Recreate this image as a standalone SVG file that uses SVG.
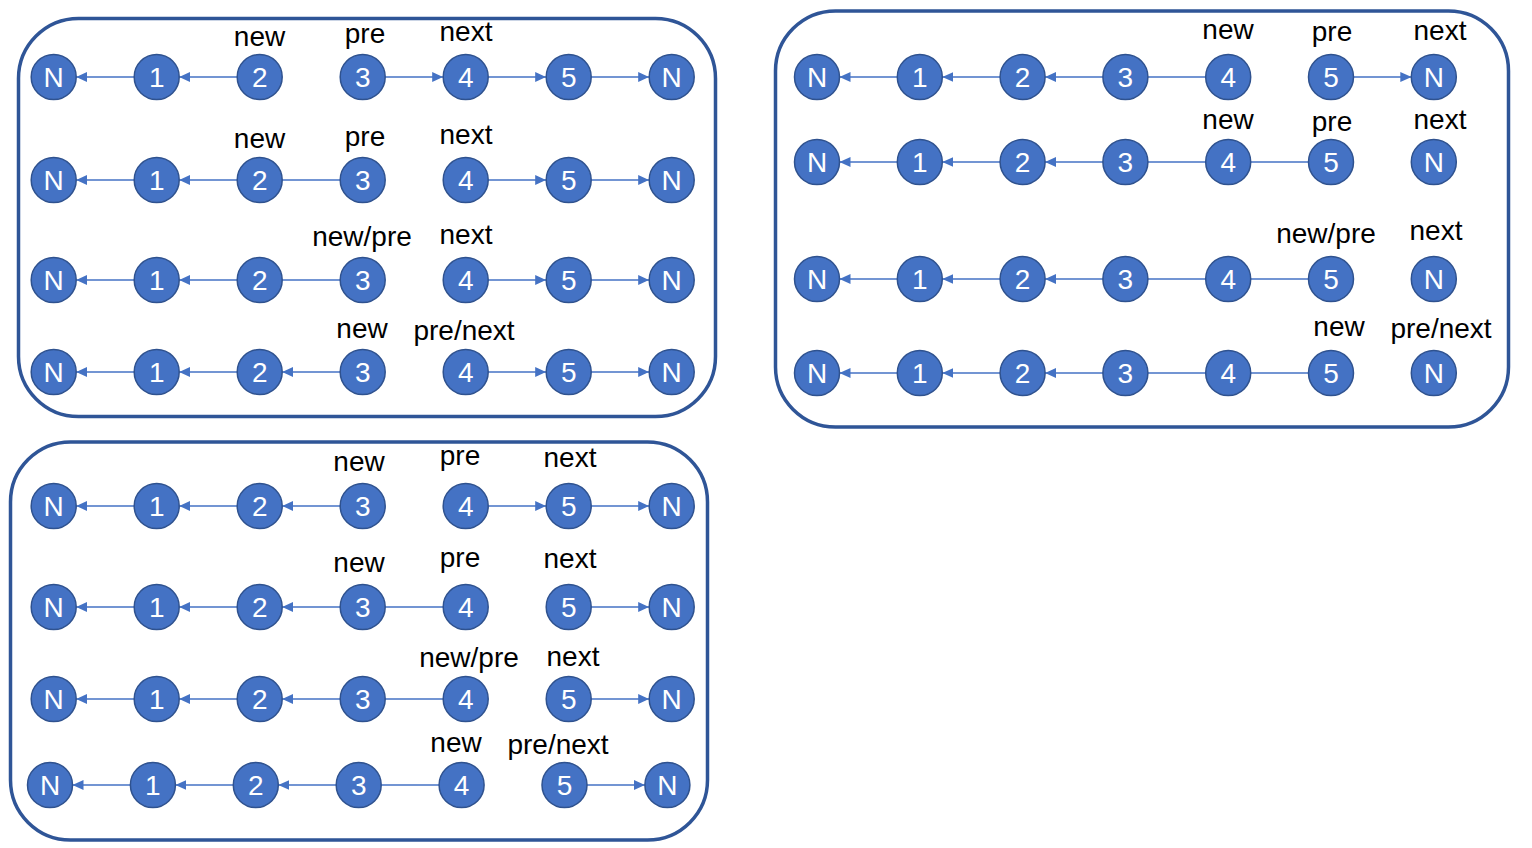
<svg xmlns="http://www.w3.org/2000/svg" width="1532" height="848" viewBox="0 0 1532 848">
<style>
.panel{fill:none;stroke:#2F5597;stroke-width:3.5}
.nd circle{fill:#4472C4;stroke:#2F528F;stroke-width:1.5}
.nd text{fill:#FFFFFF;font-family:"Liberation Sans",Arial,sans-serif;font-size:28px;text-anchor:middle}
.lbl{fill:#000000;font-family:"Liberation Sans",Arial,sans-serif;font-size:28px;text-anchor:middle}
.ln{stroke:#4472C4;stroke-width:1.3;fill:none}
.ar{marker-end:url(#ah)}
</style>
<defs>
<marker id="ah" markerUnits="userSpaceOnUse" markerWidth="11" markerHeight="10" refX="11" refY="5" orient="auto">
<path d="M0,0 L11,5 L0,10 z" fill="#4472C4"/>
</marker>
</defs>
<rect fill="#FFFFFF" x="0" y="0" width="1532" height="848"/>
<g id="panels">
<rect class="panel" x="18.5" y="18.5" width="697" height="398" rx="60"/>
<rect class="panel" x="775.5" y="11" width="733" height="416" rx="60"/>
<rect class="panel" x="10.5" y="442" width="697" height="398" rx="60"/>
</g>
<g id="connectors">
<line class="ln ar" x1="134.2" y1="77" x2="76.2" y2="77"/>
<line class="ln ar" x1="237.2" y1="77" x2="179.2" y2="77"/>
<line class="ln ar" x1="385.2" y1="77" x2="443.2" y2="77"/>
<line class="ln ar" x1="488.2" y1="77" x2="546.2" y2="77"/>
<line class="ln ar" x1="591.2" y1="77" x2="649.2" y2="77"/>
<line class="ln ar" x1="134.2" y1="180" x2="76.2" y2="180"/>
<line class="ln ar" x1="237.2" y1="180" x2="179.2" y2="180"/>
<line class="ln" x1="282.2" y1="180" x2="340.2" y2="180"/>
<line class="ln ar" x1="488.2" y1="180" x2="546.2" y2="180"/>
<line class="ln ar" x1="591.2" y1="180" x2="649.2" y2="180"/>
<line class="ln ar" x1="134.2" y1="280" x2="76.2" y2="280"/>
<line class="ln ar" x1="237.2" y1="280" x2="179.2" y2="280"/>
<line class="ln" x1="282.2" y1="280" x2="340.2" y2="280"/>
<line class="ln ar" x1="488.2" y1="280" x2="546.2" y2="280"/>
<line class="ln ar" x1="591.2" y1="280" x2="649.2" y2="280"/>
<line class="ln ar" x1="134.2" y1="372" x2="76.2" y2="372"/>
<line class="ln ar" x1="237.2" y1="372" x2="179.2" y2="372"/>
<line class="ln ar" x1="340.2" y1="372" x2="282.2" y2="372"/>
<line class="ln ar" x1="488.2" y1="372" x2="546.2" y2="372"/>
<line class="ln ar" x1="591.2" y1="372" x2="649.2" y2="372"/>
<line class="ln ar" x1="897.3" y1="77" x2="839.5" y2="77"/>
<line class="ln ar" x1="1000.1" y1="77" x2="942.3" y2="77"/>
<line class="ln ar" x1="1102.9" y1="77" x2="1045.1" y2="77"/>
<line class="ln" x1="1147.9" y1="77" x2="1205.7" y2="77"/>
<line class="ln ar" x1="1353.5" y1="77" x2="1411.3" y2="77"/>
<line class="ln ar" x1="897.3" y1="162" x2="839.5" y2="162"/>
<line class="ln ar" x1="1000.1" y1="162" x2="942.3" y2="162"/>
<line class="ln ar" x1="1102.9" y1="162" x2="1045.1" y2="162"/>
<line class="ln" x1="1147.9" y1="162" x2="1205.7" y2="162"/>
<line class="ln" x1="1250.7" y1="162" x2="1308.5" y2="162"/>
<line class="ln ar" x1="897.3" y1="279" x2="839.5" y2="279"/>
<line class="ln ar" x1="1000.1" y1="279" x2="942.3" y2="279"/>
<line class="ln ar" x1="1102.9" y1="279" x2="1045.1" y2="279"/>
<line class="ln" x1="1147.9" y1="279" x2="1205.7" y2="279"/>
<line class="ln" x1="1250.7" y1="279" x2="1308.5" y2="279"/>
<line class="ln ar" x1="897.3" y1="373" x2="839.5" y2="373"/>
<line class="ln ar" x1="1000.1" y1="373" x2="942.3" y2="373"/>
<line class="ln ar" x1="1102.9" y1="373" x2="1045.1" y2="373"/>
<line class="ln" x1="1147.9" y1="373" x2="1205.7" y2="373"/>
<line class="ln" x1="1250.7" y1="373" x2="1308.5" y2="373"/>
<line class="ln ar" x1="134.2" y1="506" x2="76.2" y2="506"/>
<line class="ln ar" x1="237.2" y1="506" x2="179.2" y2="506"/>
<line class="ln ar" x1="340.2" y1="506" x2="282.2" y2="506"/>
<line class="ln ar" x1="488.2" y1="506" x2="546.2" y2="506"/>
<line class="ln ar" x1="591.2" y1="506" x2="649.2" y2="506"/>
<line class="ln ar" x1="134.2" y1="607" x2="76.2" y2="607"/>
<line class="ln ar" x1="237.2" y1="607" x2="179.2" y2="607"/>
<line class="ln ar" x1="340.2" y1="607" x2="282.2" y2="607"/>
<line class="ln" x1="385.2" y1="607" x2="443.2" y2="607"/>
<line class="ln ar" x1="591.2" y1="607" x2="649.2" y2="607"/>
<line class="ln ar" x1="134.2" y1="699" x2="76.2" y2="699"/>
<line class="ln ar" x1="237.2" y1="699" x2="179.2" y2="699"/>
<line class="ln ar" x1="340.2" y1="699" x2="282.2" y2="699"/>
<line class="ln" x1="385.2" y1="699" x2="443.2" y2="699"/>
<line class="ln ar" x1="591.2" y1="699" x2="649.2" y2="699"/>
<line class="ln ar" x1="130.4" y1="785" x2="72.5" y2="785"/>
<line class="ln ar" x1="233.3" y1="785" x2="175.4" y2="785"/>
<line class="ln ar" x1="336.2" y1="785" x2="278.3" y2="785"/>
<line class="ln" x1="381.2" y1="785" x2="439.1" y2="785"/>
<line class="ln ar" x1="587" y1="785" x2="644.9" y2="785"/>
</g>
<g id="nodes">
<g id="tl1-n0" class="nd"><circle cx="53.7" cy="77" r="22.5"/><text x="53.7" y="87">N</text></g>
<g id="tl1-n1" class="nd"><circle cx="156.7" cy="77" r="22.5"/><text x="156.7" y="87">1</text></g>
<g id="tl1-n2" class="nd"><circle cx="259.7" cy="77" r="22.5"/><text x="259.7" y="87">2</text></g>
<g id="tl1-n3" class="nd"><circle cx="362.7" cy="77" r="22.5"/><text x="362.7" y="87">3</text></g>
<g id="tl1-n4" class="nd"><circle cx="465.7" cy="77" r="22.5"/><text x="465.7" y="87">4</text></g>
<g id="tl1-n5" class="nd"><circle cx="568.7" cy="77" r="22.5"/><text x="568.7" y="87">5</text></g>
<g id="tl1-n6" class="nd"><circle cx="671.7" cy="77" r="22.5"/><text x="671.7" y="87">N</text></g>
<g id="tl2-n0" class="nd"><circle cx="53.7" cy="180" r="22.5"/><text x="53.7" y="190">N</text></g>
<g id="tl2-n1" class="nd"><circle cx="156.7" cy="180" r="22.5"/><text x="156.7" y="190">1</text></g>
<g id="tl2-n2" class="nd"><circle cx="259.7" cy="180" r="22.5"/><text x="259.7" y="190">2</text></g>
<g id="tl2-n3" class="nd"><circle cx="362.7" cy="180" r="22.5"/><text x="362.7" y="190">3</text></g>
<g id="tl2-n4" class="nd"><circle cx="465.7" cy="180" r="22.5"/><text x="465.7" y="190">4</text></g>
<g id="tl2-n5" class="nd"><circle cx="568.7" cy="180" r="22.5"/><text x="568.7" y="190">5</text></g>
<g id="tl2-n6" class="nd"><circle cx="671.7" cy="180" r="22.5"/><text x="671.7" y="190">N</text></g>
<g id="tl3-n0" class="nd"><circle cx="53.7" cy="280" r="22.5"/><text x="53.7" y="290">N</text></g>
<g id="tl3-n1" class="nd"><circle cx="156.7" cy="280" r="22.5"/><text x="156.7" y="290">1</text></g>
<g id="tl3-n2" class="nd"><circle cx="259.7" cy="280" r="22.5"/><text x="259.7" y="290">2</text></g>
<g id="tl3-n3" class="nd"><circle cx="362.7" cy="280" r="22.5"/><text x="362.7" y="290">3</text></g>
<g id="tl3-n4" class="nd"><circle cx="465.7" cy="280" r="22.5"/><text x="465.7" y="290">4</text></g>
<g id="tl3-n5" class="nd"><circle cx="568.7" cy="280" r="22.5"/><text x="568.7" y="290">5</text></g>
<g id="tl3-n6" class="nd"><circle cx="671.7" cy="280" r="22.5"/><text x="671.7" y="290">N</text></g>
<g id="tl4-n0" class="nd"><circle cx="53.7" cy="372" r="22.5"/><text x="53.7" y="382">N</text></g>
<g id="tl4-n1" class="nd"><circle cx="156.7" cy="372" r="22.5"/><text x="156.7" y="382">1</text></g>
<g id="tl4-n2" class="nd"><circle cx="259.7" cy="372" r="22.5"/><text x="259.7" y="382">2</text></g>
<g id="tl4-n3" class="nd"><circle cx="362.7" cy="372" r="22.5"/><text x="362.7" y="382">3</text></g>
<g id="tl4-n4" class="nd"><circle cx="465.7" cy="372" r="22.5"/><text x="465.7" y="382">4</text></g>
<g id="tl4-n5" class="nd"><circle cx="568.7" cy="372" r="22.5"/><text x="568.7" y="382">5</text></g>
<g id="tl4-n6" class="nd"><circle cx="671.7" cy="372" r="22.5"/><text x="671.7" y="382">N</text></g>
<g id="tr1-n0" class="nd"><circle cx="817" cy="77" r="22.5"/><text x="817" y="87">N</text></g>
<g id="tr1-n1" class="nd"><circle cx="919.8" cy="77" r="22.5"/><text x="919.8" y="87">1</text></g>
<g id="tr1-n2" class="nd"><circle cx="1022.6" cy="77" r="22.5"/><text x="1022.6" y="87">2</text></g>
<g id="tr1-n3" class="nd"><circle cx="1125.4" cy="77" r="22.5"/><text x="1125.4" y="87">3</text></g>
<g id="tr1-n4" class="nd"><circle cx="1228.2" cy="77" r="22.5"/><text x="1228.2" y="87">4</text></g>
<g id="tr1-n5" class="nd"><circle cx="1331" cy="77" r="22.5"/><text x="1331" y="87">5</text></g>
<g id="tr1-n6" class="nd"><circle cx="1433.8" cy="77" r="22.5"/><text x="1433.8" y="87">N</text></g>
<g id="tr2-n0" class="nd"><circle cx="817" cy="162" r="22.5"/><text x="817" y="172">N</text></g>
<g id="tr2-n1" class="nd"><circle cx="919.8" cy="162" r="22.5"/><text x="919.8" y="172">1</text></g>
<g id="tr2-n2" class="nd"><circle cx="1022.6" cy="162" r="22.5"/><text x="1022.6" y="172">2</text></g>
<g id="tr2-n3" class="nd"><circle cx="1125.4" cy="162" r="22.5"/><text x="1125.4" y="172">3</text></g>
<g id="tr2-n4" class="nd"><circle cx="1228.2" cy="162" r="22.5"/><text x="1228.2" y="172">4</text></g>
<g id="tr2-n5" class="nd"><circle cx="1331" cy="162" r="22.5"/><text x="1331" y="172">5</text></g>
<g id="tr2-n6" class="nd"><circle cx="1433.8" cy="162" r="22.5"/><text x="1433.8" y="172">N</text></g>
<g id="tr3-n0" class="nd"><circle cx="817" cy="279" r="22.5"/><text x="817" y="289">N</text></g>
<g id="tr3-n1" class="nd"><circle cx="919.8" cy="279" r="22.5"/><text x="919.8" y="289">1</text></g>
<g id="tr3-n2" class="nd"><circle cx="1022.6" cy="279" r="22.5"/><text x="1022.6" y="289">2</text></g>
<g id="tr3-n3" class="nd"><circle cx="1125.4" cy="279" r="22.5"/><text x="1125.4" y="289">3</text></g>
<g id="tr3-n4" class="nd"><circle cx="1228.2" cy="279" r="22.5"/><text x="1228.2" y="289">4</text></g>
<g id="tr3-n5" class="nd"><circle cx="1331" cy="279" r="22.5"/><text x="1331" y="289">5</text></g>
<g id="tr3-n6" class="nd"><circle cx="1433.8" cy="279" r="22.5"/><text x="1433.8" y="289">N</text></g>
<g id="tr4-n0" class="nd"><circle cx="817" cy="373" r="22.5"/><text x="817" y="383">N</text></g>
<g id="tr4-n1" class="nd"><circle cx="919.8" cy="373" r="22.5"/><text x="919.8" y="383">1</text></g>
<g id="tr4-n2" class="nd"><circle cx="1022.6" cy="373" r="22.5"/><text x="1022.6" y="383">2</text></g>
<g id="tr4-n3" class="nd"><circle cx="1125.4" cy="373" r="22.5"/><text x="1125.4" y="383">3</text></g>
<g id="tr4-n4" class="nd"><circle cx="1228.2" cy="373" r="22.5"/><text x="1228.2" y="383">4</text></g>
<g id="tr4-n5" class="nd"><circle cx="1331" cy="373" r="22.5"/><text x="1331" y="383">5</text></g>
<g id="tr4-n6" class="nd"><circle cx="1433.8" cy="373" r="22.5"/><text x="1433.8" y="383">N</text></g>
<g id="bl1-n0" class="nd"><circle cx="53.7" cy="506" r="22.5"/><text x="53.7" y="516">N</text></g>
<g id="bl1-n1" class="nd"><circle cx="156.7" cy="506" r="22.5"/><text x="156.7" y="516">1</text></g>
<g id="bl1-n2" class="nd"><circle cx="259.7" cy="506" r="22.5"/><text x="259.7" y="516">2</text></g>
<g id="bl1-n3" class="nd"><circle cx="362.7" cy="506" r="22.5"/><text x="362.7" y="516">3</text></g>
<g id="bl1-n4" class="nd"><circle cx="465.7" cy="506" r="22.5"/><text x="465.7" y="516">4</text></g>
<g id="bl1-n5" class="nd"><circle cx="568.7" cy="506" r="22.5"/><text x="568.7" y="516">5</text></g>
<g id="bl1-n6" class="nd"><circle cx="671.7" cy="506" r="22.5"/><text x="671.7" y="516">N</text></g>
<g id="bl2-n0" class="nd"><circle cx="53.7" cy="607" r="22.5"/><text x="53.7" y="617">N</text></g>
<g id="bl2-n1" class="nd"><circle cx="156.7" cy="607" r="22.5"/><text x="156.7" y="617">1</text></g>
<g id="bl2-n2" class="nd"><circle cx="259.7" cy="607" r="22.5"/><text x="259.7" y="617">2</text></g>
<g id="bl2-n3" class="nd"><circle cx="362.7" cy="607" r="22.5"/><text x="362.7" y="617">3</text></g>
<g id="bl2-n4" class="nd"><circle cx="465.7" cy="607" r="22.5"/><text x="465.7" y="617">4</text></g>
<g id="bl2-n5" class="nd"><circle cx="568.7" cy="607" r="22.5"/><text x="568.7" y="617">5</text></g>
<g id="bl2-n6" class="nd"><circle cx="671.7" cy="607" r="22.5"/><text x="671.7" y="617">N</text></g>
<g id="bl3-n0" class="nd"><circle cx="53.7" cy="699" r="22.5"/><text x="53.7" y="709">N</text></g>
<g id="bl3-n1" class="nd"><circle cx="156.7" cy="699" r="22.5"/><text x="156.7" y="709">1</text></g>
<g id="bl3-n2" class="nd"><circle cx="259.7" cy="699" r="22.5"/><text x="259.7" y="709">2</text></g>
<g id="bl3-n3" class="nd"><circle cx="362.7" cy="699" r="22.5"/><text x="362.7" y="709">3</text></g>
<g id="bl3-n4" class="nd"><circle cx="465.7" cy="699" r="22.5"/><text x="465.7" y="709">4</text></g>
<g id="bl3-n5" class="nd"><circle cx="568.7" cy="699" r="22.5"/><text x="568.7" y="709">5</text></g>
<g id="bl3-n6" class="nd"><circle cx="671.7" cy="699" r="22.5"/><text x="671.7" y="709">N</text></g>
<g id="bl4-n0" class="nd"><circle cx="50" cy="785" r="22.5"/><text x="50" y="795">N</text></g>
<g id="bl4-n1" class="nd"><circle cx="152.9" cy="785" r="22.5"/><text x="152.9" y="795">1</text></g>
<g id="bl4-n2" class="nd"><circle cx="255.8" cy="785" r="22.5"/><text x="255.8" y="795">2</text></g>
<g id="bl4-n3" class="nd"><circle cx="358.7" cy="785" r="22.5"/><text x="358.7" y="795">3</text></g>
<g id="bl4-n4" class="nd"><circle cx="461.6" cy="785" r="22.5"/><text x="461.6" y="795">4</text></g>
<g id="bl4-n5" class="nd"><circle cx="564.5" cy="785" r="22.5"/><text x="564.5" y="795">5</text></g>
<g id="bl4-n6" class="nd"><circle cx="667.4" cy="785" r="22.5"/><text x="667.4" y="795">N</text></g>
</g>
<g id="labels">
<text class="lbl" x="259.5" y="46">new</text>
<text class="lbl" x="365" y="43">pre</text>
<text class="lbl" x="466" y="41">next</text>
<text class="lbl" x="259.5" y="148">new</text>
<text class="lbl" x="365" y="146">pre</text>
<text class="lbl" x="466" y="144">next</text>
<text class="lbl" x="362" y="246">new/pre</text>
<text class="lbl" x="466" y="244">next</text>
<text class="lbl" x="362" y="338">new</text>
<text class="lbl" x="464" y="340">pre/next</text>
<text class="lbl" x="1228" y="39">new</text>
<text class="lbl" x="1332" y="41">pre</text>
<text class="lbl" x="1440" y="40">next</text>
<text class="lbl" x="1228" y="129">new</text>
<text class="lbl" x="1332" y="131">pre</text>
<text class="lbl" x="1440" y="129">next</text>
<text class="lbl" x="1326" y="243">new/pre</text>
<text class="lbl" x="1436" y="240">next</text>
<text class="lbl" x="1339" y="336">new</text>
<text class="lbl" x="1441" y="338">pre/next</text>
<text class="lbl" x="359" y="471">new</text>
<text class="lbl" x="460" y="465">pre</text>
<text class="lbl" x="570" y="467">next</text>
<text class="lbl" x="359" y="572">new</text>
<text class="lbl" x="460" y="567">pre</text>
<text class="lbl" x="570" y="568">next</text>
<text class="lbl" x="469" y="667">new/pre</text>
<text class="lbl" x="573" y="666">next</text>
<text class="lbl" x="456" y="752">new</text>
<text class="lbl" x="558" y="754">pre/next</text>
</g>
</svg>
